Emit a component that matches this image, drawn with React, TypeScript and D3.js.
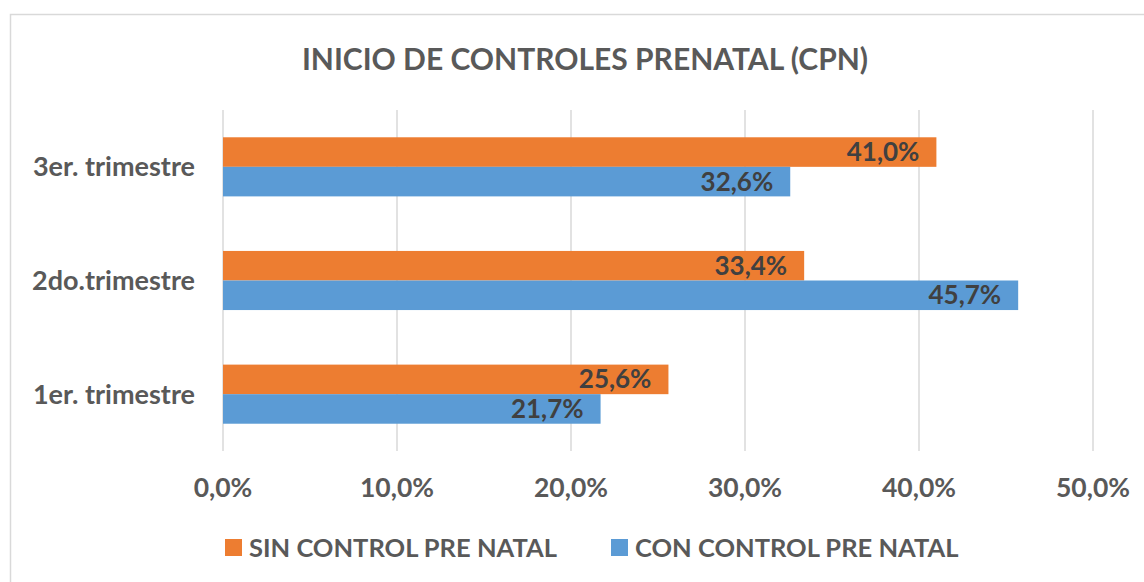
import React from 'react';
import * as d3 from 'd3';

// categories listed top to bottom, as in the chart
const categories = ['3er. trimestre', '2do.trimestre', '1er. trimestre'];
const sinControl = [0.41, 0.334, 0.256];
const conControl = [0.326, 0.457, 0.217];
const xTicks = [0, 0.1, 0.2, 0.3, 0.4, 0.5];
const seriesNames = ['SIN CONTROL PRE NATAL', 'CON CONTROL PRE NATAL'];
const seriesColors = ['#ED7D31', '#5B9BD5'];

const width = 1144;
const height = 582;
const font = 'Lato, "Open Sans", sans-serif';
const fmt = (v: number) => (v * 100).toFixed(1).replace('.', ',') + '%';

export default function App() {
  const x = d3.scaleLinear().domain([0, 0.5]).range([223, 1093]);
  const y = d3.scaleBand().domain(categories).range([110, 451]).paddingInner(0.48).paddingOuter(0.24);
  const inner = d3.scaleBand().domain(seriesNames).range([0, y.bandwidth()]);
  const series = [sinControl, conControl];

  return (
    <svg width={width} height={height} style={{ position: 'absolute', left: 0, top: 0 }}>
      <rect x={10.5} y={14.5} width={1150} height={580} fill="#fff" stroke="#d9d9d9" strokeWidth={1.5} />
      <text x={585} y={70} textAnchor="middle" fontFamily={font} fontWeight="bold" fontSize={30} fill="#595959">
        INICIO DE CONTROLES PRENATAL (CPN)
      </text>

      {xTicks.map((t) => (
        <g key={t}>
          <line x1={x(t)} x2={x(t)} y1={110} y2={451} stroke="#d9d9d9" strokeWidth={1.5} />
          <text x={x(t)} y={497} textAnchor="middle" fontFamily={font} fontWeight="bold" fontSize={26.5} fill="#595959">
            {fmt(t)}
          </text>
        </g>
      ))}

      {categories.map((c, i) => (
        <g key={c}>
          <text x={195} y={(y(c) ?? 0) + y.bandwidth() / 2 + 9.5} textAnchor="end" fontFamily={font} fontWeight="bold" fontSize={27} fill="#595959">
            {c}
          </text>
          {series.map((s, j) => {
            const by = (y(c) ?? 0) + (inner(seriesNames[j]) ?? 0);
            return (
              <g key={j}>
                <rect x={x(0)} y={by} width={x(s[i]) - x(0)} height={inner.bandwidth()} fill={seriesColors[j]} />
                <text x={x(s[i]) - 17} y={by + inner.bandwidth() / 2 + 9} textAnchor="end" fontFamily={font} fontWeight="bold" fontSize={26} fill="#404040">
                  {fmt(s[i])}
                </text>
              </g>
            );
          })}
        </g>
      ))}

      {seriesNames.map((n, j) => {
        const lx = [225, 611][j];
        return (
          <g key={n}>
            <rect x={lx} y={539} width={17} height={17} fill={seriesColors[j]} />
            <text x={lx + 24} y={556.5} fontFamily={font} fontWeight="bold" fontSize={25.5} fill="#595959">
              {n}
            </text>
          </g>
        );
      })}
    </svg>
  );
}
